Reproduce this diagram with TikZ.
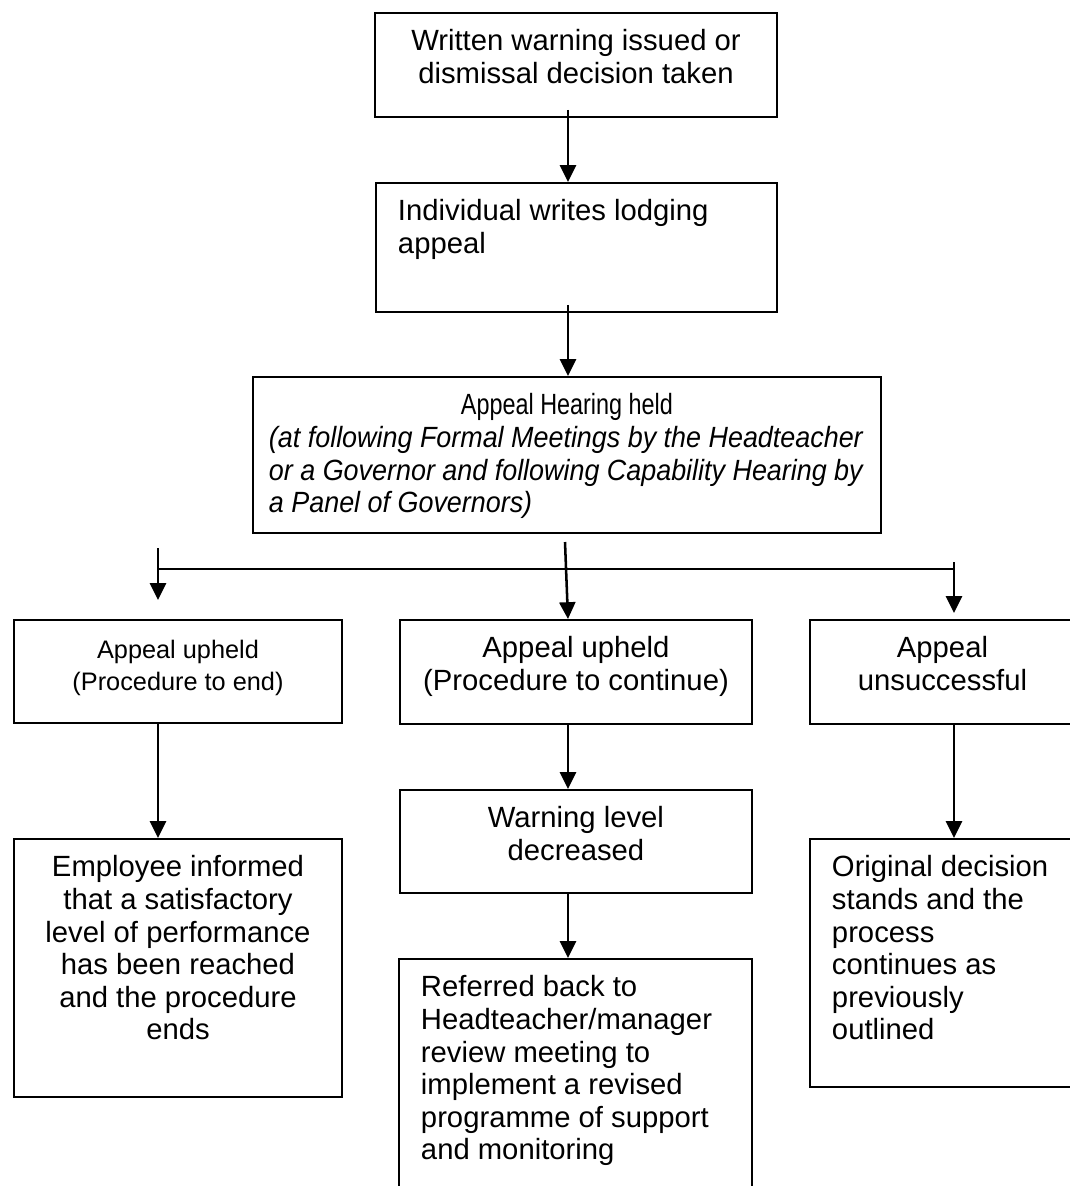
\documentclass[tikz,border=0pt]{standalone}
\usepackage{fontspec}
\setmainfont{Liberation Sans}
\newfontfamily\headfont[FakeStretch=0.8]{Liberation Sans}
\newfontfamily\notefont[FakeStretch=0.92]{Liberation Sans}
\usetikzlibrary{arrows.meta}

% one pixel of the page
\newdimen\pxu
\pxu=0.025cm
% text held at the top of a box of fixed size
\newcommand{\boxtext}[4]{\parbox[t][#2\pxu][t]{#1\pxu}{#3\vspace*{15\pxu}\strut #4}}

\tikzset{
  box/.style={draw, line width=1.4pt, inner ysep=0pt, inner xsep=0.55cm, anchor=north west},
  flow/.style={line width=1.8pt, -{Triangle[width=0.4cm,length=0.42cm]}},
  branch/.style={line width=1.1pt}
}

\begin{document}
\begin{tikzpicture}[x=0.025cm, y=-0.025cm,
    every node/.style={font=\fontsize{20.8}{23.2}\selectfont}]
  \fill[white] (0,0) rectangle (1070,1186);
  \useasboundingbox (0,0) rectangle (1070,1186);

  % columns of the arrows
  \coordinate (colL) at (158,0);
  \coordinate (colM) at (568,0);
  \coordinate (colR) at (954,0);

  % boxes
  \node[box] (issued) at (374,12)
    {\boxtext{358}{104}{\centering}{Written warning issued or\\dismissal decision taken}};
  \node[box] (lodge) at (375,182)
    {\boxtext{357}{129}{\raggedright}{Individual writes lodging\\appeal}};
  \node[box, inner xsep=0.4cm] (hearing) at (252,376)
    {\boxtext{596}{156}{\centering}{{\headfont Appeal Hearing held}\par
      \raggedright\notefont\itshape (at following Formal Meetings by the Headteacher\\
      or a Governor and following Capability Hearing by\\a Panel of Governors)}};

  \node[box, font=\fontsize{18}{23.4}\selectfont] (endproc) at (13,619)
    {\boxtext{284}{103}{\centering}{Appeal upheld\\(Procedure to end)}};
  \node[box] (contproc) at (399,619)
    {\boxtext{308}{104}{\centering}{Appeal upheld\\(Procedure to continue)}};
  \node[box] (unsucc) at (809,619)
    {\boxtext{221}{104}{\centering}{Appeal\\unsuccessful}};

  \node[box] (informed) at (13,838)
    {\boxtext{284}{258}{\centering}{Employee informed\\that a satisfactory\\level of performance\\has been reached\\and the procedure\\ends}};
  \node[box] (decrease) at (399,789)
    {\boxtext{308}{103}{\centering}{Warning level\\decreased}};
  \node[box] (referred) at (398,958)
    {\boxtext{309}{240}{\raggedright}{Referred back to\\Headteacher/manager\\review meeting to\\implement a revised\\programme of support\\and monitoring}};
  \node[box] (stands) at (809,838)
    {\boxtext{221}{248}{\raggedright}{Original decision\\stands and the\\process\\continues as\\previously\\outlined}};

  % split below the hearing
  \coordinate (splitL) at (158,569);
  \coordinate (splitR) at (954,569);
  \coordinate (stubL) at (158,548);
  \coordinate (stubR) at (954,562);
  \coordinate (tipL) at (158,600);
  \coordinate (tipR) at (954,613);
  \coordinate (hearfoot) at (565,542);
  \draw[branch] (splitL) -- (splitR);
  \draw[flow] (stubL) -- (tipL);
  \draw[flow] (stubR) -- (tipR);
  \draw[flow] (hearfoot) -- (contproc.north -| colM);

  % arrows
  \draw[flow] ([yshift=0.2cm]issued.south -| colM) -- (lodge.north -| colM);
  \draw[flow] ([yshift=0.2cm]lodge.south -| colM) -- (hearing.north -| colM);
  \draw[flow] (endproc.south -| colL) -- (informed.north -| colL);
  \draw[flow] (contproc.south -| colM) -- (decrease.north -| colM);
  \draw[flow] (decrease.south -| colM) -- (referred.north -| colM);
  \draw[flow] (unsucc.south -| colR) -- (stands.north -| colR);
\end{tikzpicture}
\end{document}
